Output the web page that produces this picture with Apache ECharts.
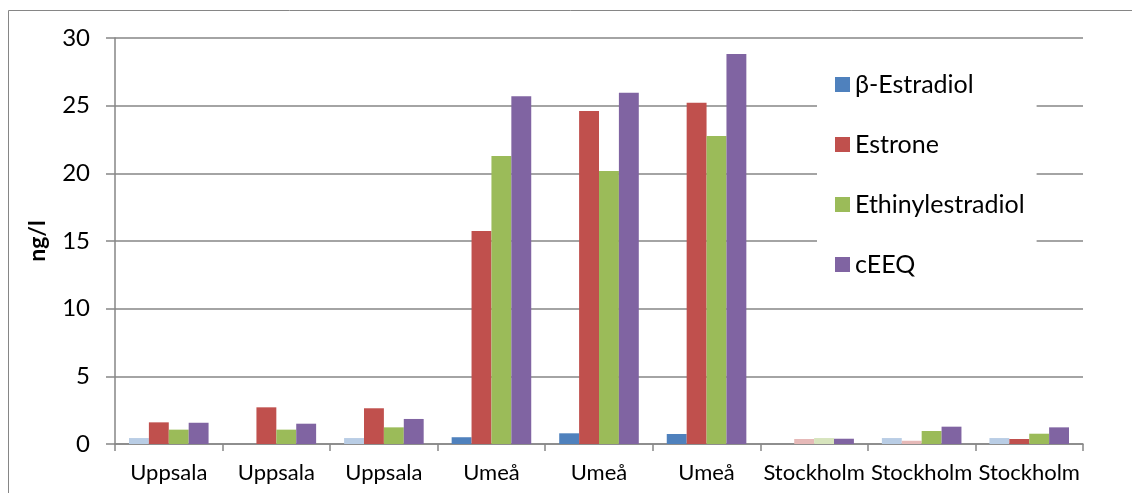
<!DOCTYPE html>
<html>
<head>
<meta charset="utf-8">
<script src="https://cdn.jsdelivr.net/npm/echarts@6/dist/echarts.min.js"></script>
<style>
  html, body { margin: 0; padding: 0; background: #fff; }
  #chart { width: 1132px; height: 493px; }
</style>
</head>
<body>
<div id="chart"></div>
<script>
// Sampling sites
const categories = ['Uppsala', 'Uppsala', 'Uppsala', 'Umeå', 'Umeå', 'Umeå', 'Stockholm', 'Stockholm', 'Stockholm'];

// Concentrations in ng/l (null = not reported)
const estradiol = [0.44, null, 0.44, 0.50, 0.79, 0.74, null, 0.44, 0.44];
const estrone = [1.60, 2.71, 2.64, 15.74, 24.60, 25.22, 0.37, 0.24, 0.37];
const ethinylestradiol = [1.06, 1.06, 1.23, 21.28, 20.18, 22.76, 0.44, 0.96, 0.76];
const ceeq = [1.57, 1.50, 1.85, 25.70, 25.96, 28.82, 0.39, 1.28, 1.23];

// Values below the detection limit are shown in a pale tint
const estradiolBelowLimit = [true, false, true, false, false, false, false, true, true];
const estroneBelowLimit = [false, false, false, false, false, false, true, true, false];
const ethinylBelowLimit = [false, false, false, false, false, false, true, false, false];
const ceeqBelowLimit = [false, false, false, false, false, false, false, false, false];

const yTicks = [0, 5, 10, 15, 20, 25, 30];

const FONT = 'Lato, "Open Sans", sans-serif';
const GRID_GRAY = '#868686';

function items(values, pale, paleColor) {
  return values.map((v, i) => (pale[i] && v != null)
    ? { value: v, itemStyle: { color: paleColor } }
    : v);
}

const seriesDefs = [
  { name: 'β-Estradiol', values: estradiol, pale: estradiolBelowLimit, color: '#4f81bd', paleColor: '#b9cde5' },
  { name: 'Estrone', values: estrone, pale: estroneBelowLimit, color: '#c0504d', paleColor: '#e6b9b8' },
  { name: 'Ethinylestradiol', values: ethinylestradiol, pale: ethinylBelowLimit, color: '#9bbb59', paleColor: '#d7e4bd' },
  { name: 'cEEQ', values: ceeq, pale: ceeqBelowLimit, color: '#8064a2', paleColor: '#ccc1da' }
];

const chart = echarts.init(document.getElementById('chart'), null, { renderer: 'canvas' });

chart.setOption({
  animation: false,
  backgroundColor: '#fff',
  textStyle: { fontFamily: FONT },
  graphic: [{
    type: 'rect',
    shape: { x: 8.5, y: 10.5, width: 1200, height: 600 },
    style: { fill: 'none', stroke: GRID_GRAY, lineWidth: 1 },
    z: -1
  }],
  grid: { left: 115, right: 49, top: 38, bottom: 49 },
  legend: {
    orient: 'vertical',
    left: 817,
    top: 50,
    width: 224,
    padding: [22, 12, 15, 18],
    backgroundColor: '#fff',
    itemWidth: 15,
    itemHeight: 15,
    itemGap: 35,
    icon: 'rect',
    textStyle: { fontFamily: FONT, fontSize: 25, color: '#000', lineHeight: 20 },
    data: seriesDefs.map(s => s.name)
  },
  xAxis: {
    type: 'category',
    data: categories,
    axisLine: { lineStyle: { color: GRID_GRAY, width: 1.5 } },
    axisTick: { show: true, length: 7, lineStyle: { color: GRID_GRAY, width: 1.5 } },
    axisLabel: { color: '#000', fontSize: 22, fontFamily: FONT, margin: 18, interval: 0 }
  },
  yAxis: {
    type: 'value',
    min: yTicks[0],
    max: yTicks[yTicks.length - 1],
    interval: yTicks[1] - yTicks[0],
    name: 'ng/l',
    nameLocation: 'middle',
    nameGap: 66,
    nameRotate: 90,
    nameTextStyle: { fontFamily: FONT, fontSize: 23, fontWeight: 'bold', color: '#000' },
    axisLine: { show: true, lineStyle: { color: GRID_GRAY, width: 1.5 } },
    axisTick: { show: true, length: 9, lineStyle: { color: GRID_GRAY, width: 1.5 } },
    axisLabel: { color: '#000', fontSize: 24, fontFamily: FONT, margin: 25 },
    splitLine: { show: true, lineStyle: { color: GRID_GRAY, width: 1.5 } }
  },
  series: seriesDefs.map(s => ({
    name: s.name,
    type: 'bar',
    data: items(s.values, s.pale, s.paleColor),
    itemStyle: { color: s.color },
    barGap: '0%',
    barCategoryGap: '26%'
  }))
});
</script>
</body>
</html>
